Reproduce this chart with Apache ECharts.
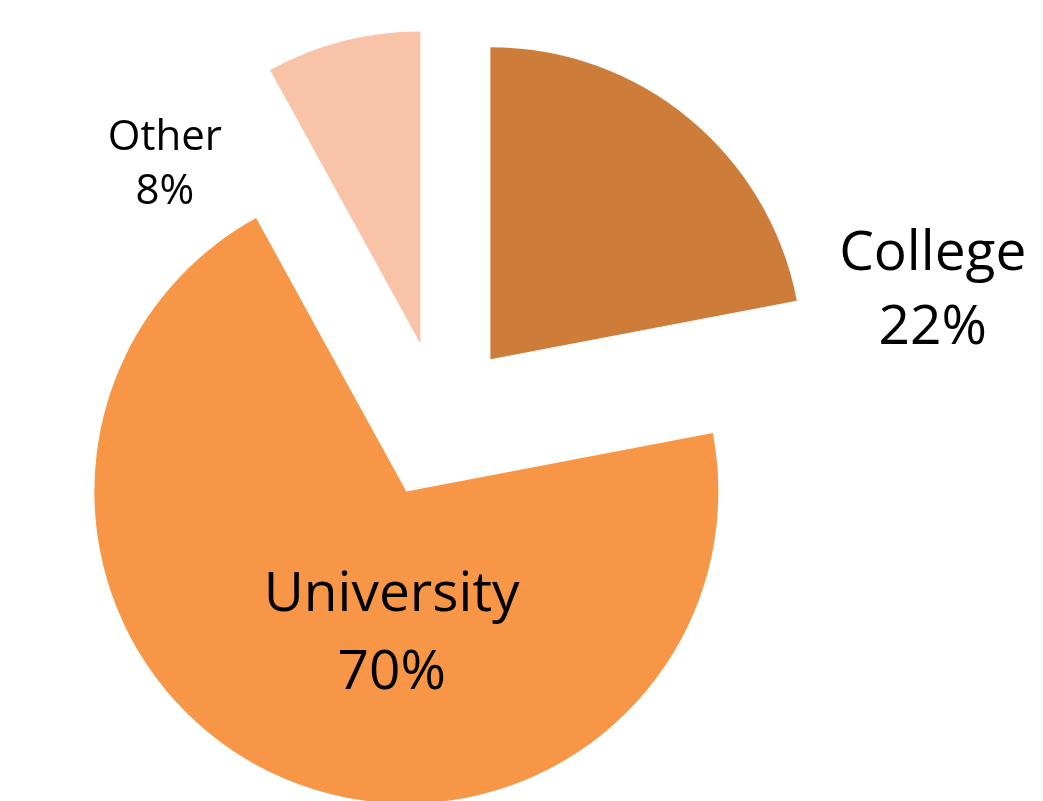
<!DOCTYPE html>
<html>
<head>
<meta charset="utf-8">
<script src="https://cdn.jsdelivr.net/npm/echarts@6/dist/echarts.min.js"></script>
<style>
html,body{margin:0;padding:0;background:#fff;}
#chart{width:1043px;height:801px;}
</style>
</head>
<body>
<div id="chart"></div>
<script>
const categories = ['College', 'University', 'Other'];
const values = [22, 70, 8];
const colors = ['#CD7C3A', '#F79646', '#F9C3A8'];

const labelStyle = {
  College: { fontSize: 55, lineHeight: 74, dx: 341, dy: 55 },
  University: { fontSize: 55, lineHeight: 78, dx: 53, dy: -1 },
  Other: { fontSize: 42, lineHeight: 54, dx: -216, dy: -24 }
};

const chart = echarts.init(document.getElementById('chart'), null, { renderer: 'canvas' });

const data = categories.map((name, i) => ({
  name: name,
  value: values[i],
  selected: true,
  itemStyle: { color: colors[i], borderWidth: 0 },
  select: { itemStyle: { color: colors[i], borderWidth: 0 } },
  label: {
    fontSize: labelStyle[name].fontSize,
    lineHeight: labelStyle[name].lineHeight
  }
}));

chart.setOption({
  animation: false,
  backgroundColor: '#ffffff',
  series: [{
    type: 'pie',
    center: [440, 420],
    radius: [0, 312],
    startAngle: 90,
    clockwise: true,
    selectedMode: 'multiple',
    selectedOffset: 79,
    avoidLabelOverlap: false,
    silent: true,
    itemStyle: { borderWidth: 0 },
    label: {
      show: true,
      position: 'inside',
      color: '#000000',
      fontFamily: '"Open Sans", sans-serif',
      align: 'center',
      formatter: p => p.name + '\n' + p.value + '%'
    },
    labelLine: { show: false },
    labelLayout: function (params) {
      const s = labelStyle[categories[params.dataIndex]];
      return { dx: s.dx, dy: s.dy };
    },
    data: data
  }]
});
</script>
</body>
</html>
